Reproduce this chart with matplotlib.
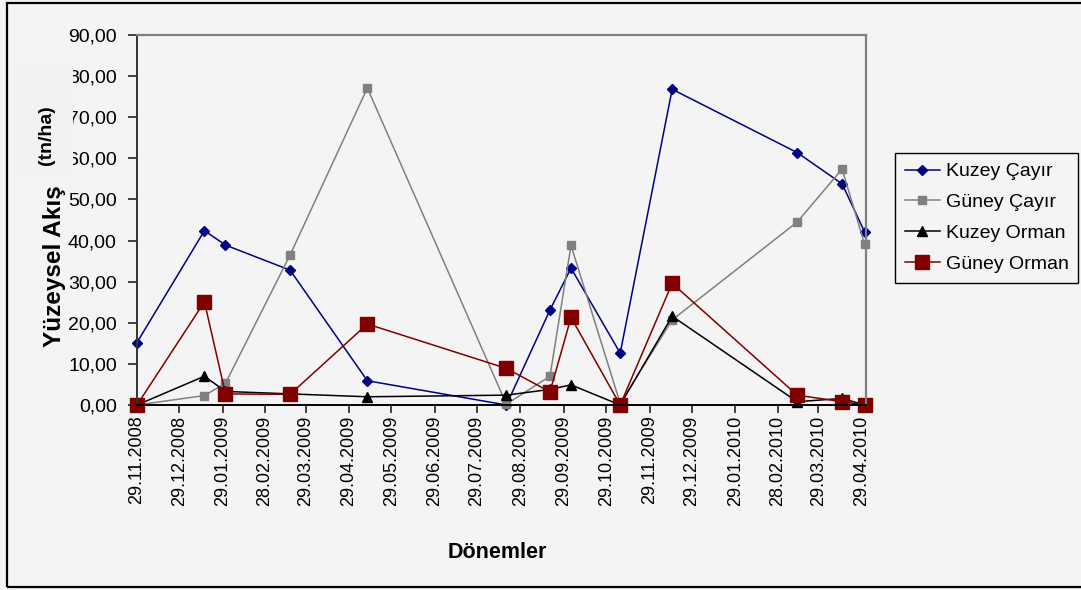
import datetime as dt
import matplotlib
matplotlib.use("Agg")
import matplotlib.pyplot as plt
from matplotlib.patches import Rectangle

plt.rcParams['font.family'] = ['Liberation Sans', 'DejaVu Sans']

# ---- data ----
dates = ["29.11.2008", "16.01.2009", "31.01.2009", "18.03.2009", "12.05.2009",
         "19.08.2009", "19.09.2009", "04.10.2009", "08.11.2009", "15.12.2009",
         "14.03.2010", "15.04.2010", "01.05.2010"]
kuzey_cayir = [15.2, 42.4, 38.9, 32.8, 5.9, 0.0, 23.1, 33.3, 12.6, 76.8, 61.4, 53.8, 42.1]
guney_cayir = [0.0, 2.3, 5.3, 36.5, 77.1, 0.2, 7.0, 38.8, 0.4, 20.7, 44.5, 57.4, 39.1]
kuzey_orman = [0.0, 7.0, 3.3, 2.7, 2.0, 2.4, 3.8, 4.9, 0.0, 21.6, 0.8, 1.6, 0.0]
guney_orman = [0.0, 25.1, 2.7, 2.6, 19.7, 8.9, 3.2, 21.3, 0.0, 29.6, 2.4, 0.8, 0.0]
series_names = ["Kuzey Çayır", "Güney Çayır", "Kuzey Orman", "Güney Orman"]
tick_dates = ["29.11.2008", "29.12.2008", "29.01.2009", "28.02.2009", "29.03.2009",
              "29.04.2009", "29.05.2009", "29.06.2009", "29.07.2009", "29.08.2009",
              "29.09.2009", "29.10.2009", "29.11.2009", "29.12.2009", "29.01.2010",
              "28.02.2010", "29.03.2010", "29.04.2010"]
y_ticks = [0, 10, 20, 30, 40, 50, 60, 70, 80, 90]

def pdate(s):
    return dt.datetime.strptime(s, "%d.%m.%Y")

x = [pdate(d) for d in dates]
xt = [pdate(d) for d in tick_dates]

W, H = 1081, 590
BG = '#f4f4f4'
fig = plt.figure(figsize=(W / 100, H / 100), dpi=100, facecolor=BG)
ax = fig.add_axes([137 / W, 1 - 405 / H, (866 - 137) / W, (405 - 35) / H])
ax.set_facecolor(BG)

styles = [
    dict(color='#000080', marker='D', ms=5.5),
    dict(color='#808080', marker='s', ms=5.5),
    dict(color='#000000', marker='^', ms=6.5),
    dict(color='#800000', marker='s', ms=10),
]
for vals, name, st in zip([kuzey_cayir, guney_cayir, kuzey_orman, guney_orman], series_names, styles):
    ax.plot(x, vals, color=st['color'], lw=1.1, marker=st['marker'], ms=st['ms'],
            mfc=st['color'], mec=st['color'], label=name, clip_on=False)

ax.set_ylim(0, 90)
ax.set_xlim(pdate("29.11.2008"), pdate("02.05.2010"))
ax.set_yticks(y_ticks)
ax.set_yticklabels([f"{v:.2f}".replace('.', ',') for v in y_ticks], fontsize=14)
ax.set_xticks(xt)
ax.set_xticklabels(tick_dates, rotation=90, fontsize=13)
ax.tick_params(axis='y', length=6.5, width=1.2, pad=8, color='#222222')
ax.tick_params(axis='x', length=5.5, width=1.2, pad=2, color='#222222')

for s in ['top', 'right']:
    ax.spines[s].set_color('#808080')
    ax.spines[s].set_linewidth(1.6)
ax.spines['left'].set_color('#333333')
ax.spines['left'].set_linewidth(1.4)
ax.spines['bottom'].set_color('#000000')
ax.spines['bottom'].set_linewidth(1.4)

leg = ax.legend(loc='upper left', bbox_to_anchor=(895 / W, 1 - 153 / H),
                bbox_transform=fig.transFigure, fontsize=14, frameon=True,
                fancybox=False, edgecolor='#000000', facecolor=BG, framealpha=1,
                handlelength=1.8, handletextpad=0.3, labelspacing=0.68,
                borderpad=0.5, borderaxespad=0)
leg.get_frame().set_linewidth(1.0)

# cover box behind the unit label (as in the reference)
fig.add_artist(Rectangle((13 / W, 1 - 178 / H), 60 / W, 116 / H, transform=fig.transFigure,
                         facecolor='#f2f2f2', edgecolor='none', zorder=5))
fig.text(55 / W, 1 - 266 / H, "Yüzeysel Akış", rotation=90, fontsize=17.5, fontweight='bold',
         ha='center', va='center', zorder=6)
fig.text(47 / W, 1 - 135 / H, "(tn/ha)", rotation=90, fontsize=14, fontweight='bold',
         ha='center', va='center', zorder=6)
fig.text(497 / W, 1 - 553 / H, "Dönemler", fontsize=15.5, fontweight='bold',
         ha='center', va='center')

# outer border
fig.add_artist(Rectangle((7 / W, 1 - 587 / H), (1085 - 7) / W, (587 - 3) / H,
                         transform=fig.transFigure, facecolor='none',
                         edgecolor='#000000', lw=1.6, zorder=7))

fig.savefig("out.png", dpi=100, facecolor=BG)
